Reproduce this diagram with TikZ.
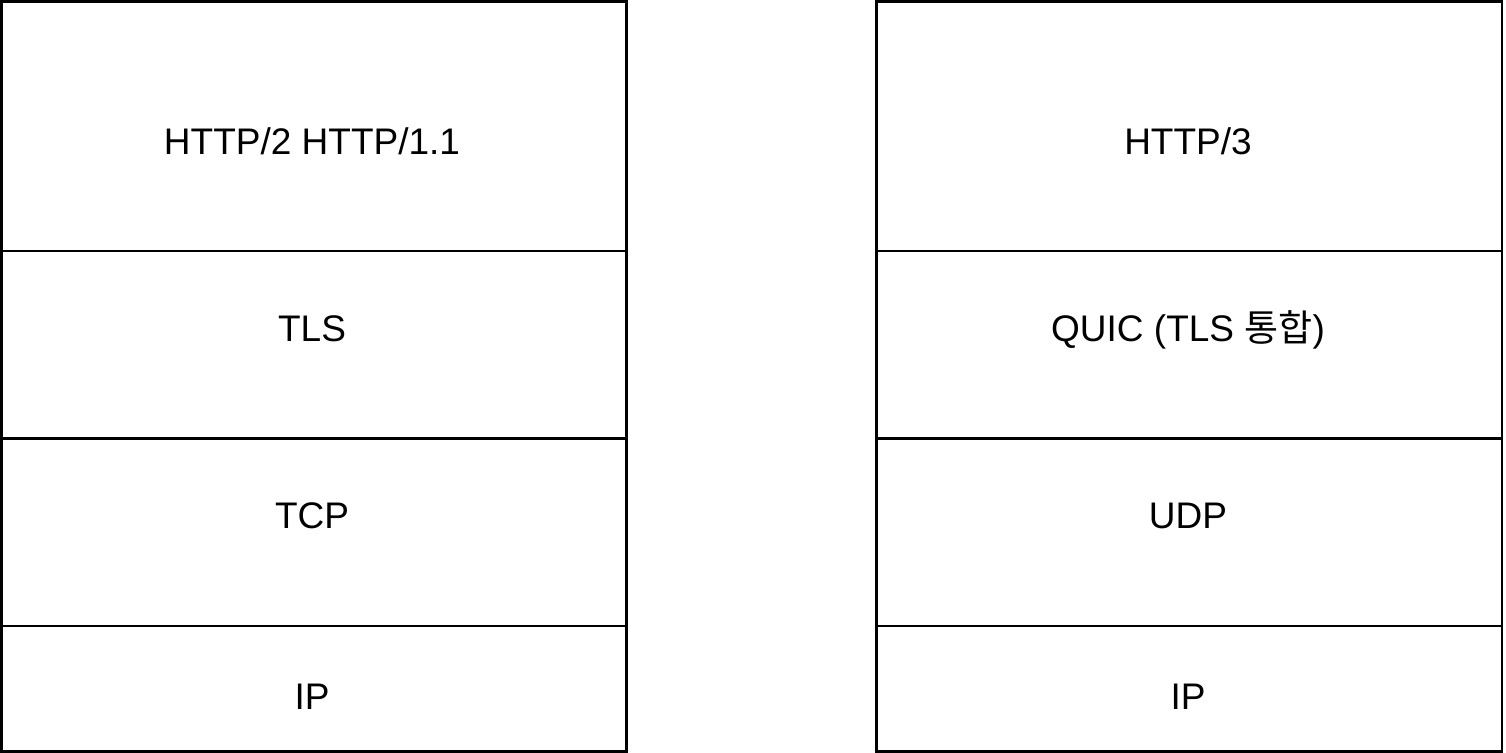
\documentclass[tikz,border=0pt]{standalone}
\usepackage{fontspec}
\setmainfont{Liberation Sans}
\newfontfamily\krfont{Noto Sans CJK KR}

\begin{document}
\begin{tikzpicture}[x=0.5pt, y=-0.5pt,
        every node/.style={font=\fontsize{18.5}{22}\selectfont},
        layer/.style={draw, line width=1.4pt, inner sep=0pt, outer sep=0pt, anchor=north west}]
      \useasboundingbox (0,0) rectangle (1506,753);
      % left stack
      \node[layer, minimum width=312.5pt, minimum height=124.75pt] (Lapp) at (1.5,1.5) {};
      \node[layer, minimum width=312.5pt, minimum height=93.75pt] (Lsec) at (1.5,251) {};
      \node[layer, minimum width=312.5pt, minimum height=93.75pt] (Ltrans) at (1.5,438.5) {};
      \node[layer, minimum width=312.5pt, minimum height=62.75pt] (Lnet) at (1.5,626) {};
      % right stack
      \node[layer, minimum width=312.75pt, minimum height=124.75pt] (Rapp) at (876.5,1.5) {};
      \node[layer, minimum width=312.75pt, minimum height=93.75pt] (Rsec) at (876.5,251) {};
      \node[layer, minimum width=312.75pt, minimum height=93.75pt] (Rtrans) at (876.5,438.5) {};
      \node[layer, minimum width=312.75pt, minimum height=62.75pt] (Rnet) at (876.5,626) {};
      % labels
      \node[anchor=base] (LappText) at (312,155) {HTTP/2 HTTP/1.1};
      \node[anchor=base] (LsecText) at (312,342) {TLS};
      \node[anchor=base] (LtransText) at (312,529) {TCP};
      \node[anchor=base] (LnetText) at (312,710) {IP};
      \node[anchor=base] (RappText) at (1188,155) {HTTP/3};
      \node[anchor=base] (RsecText) at (1188,342) {QUIC (TLS {\krfont 통합})};
      \node[anchor=base] (RtransText) at (1188,529) {UDP};
      \node[anchor=base] (RnetText) at (1188,710) {IP};
    \end{tikzpicture}
\end{document}
